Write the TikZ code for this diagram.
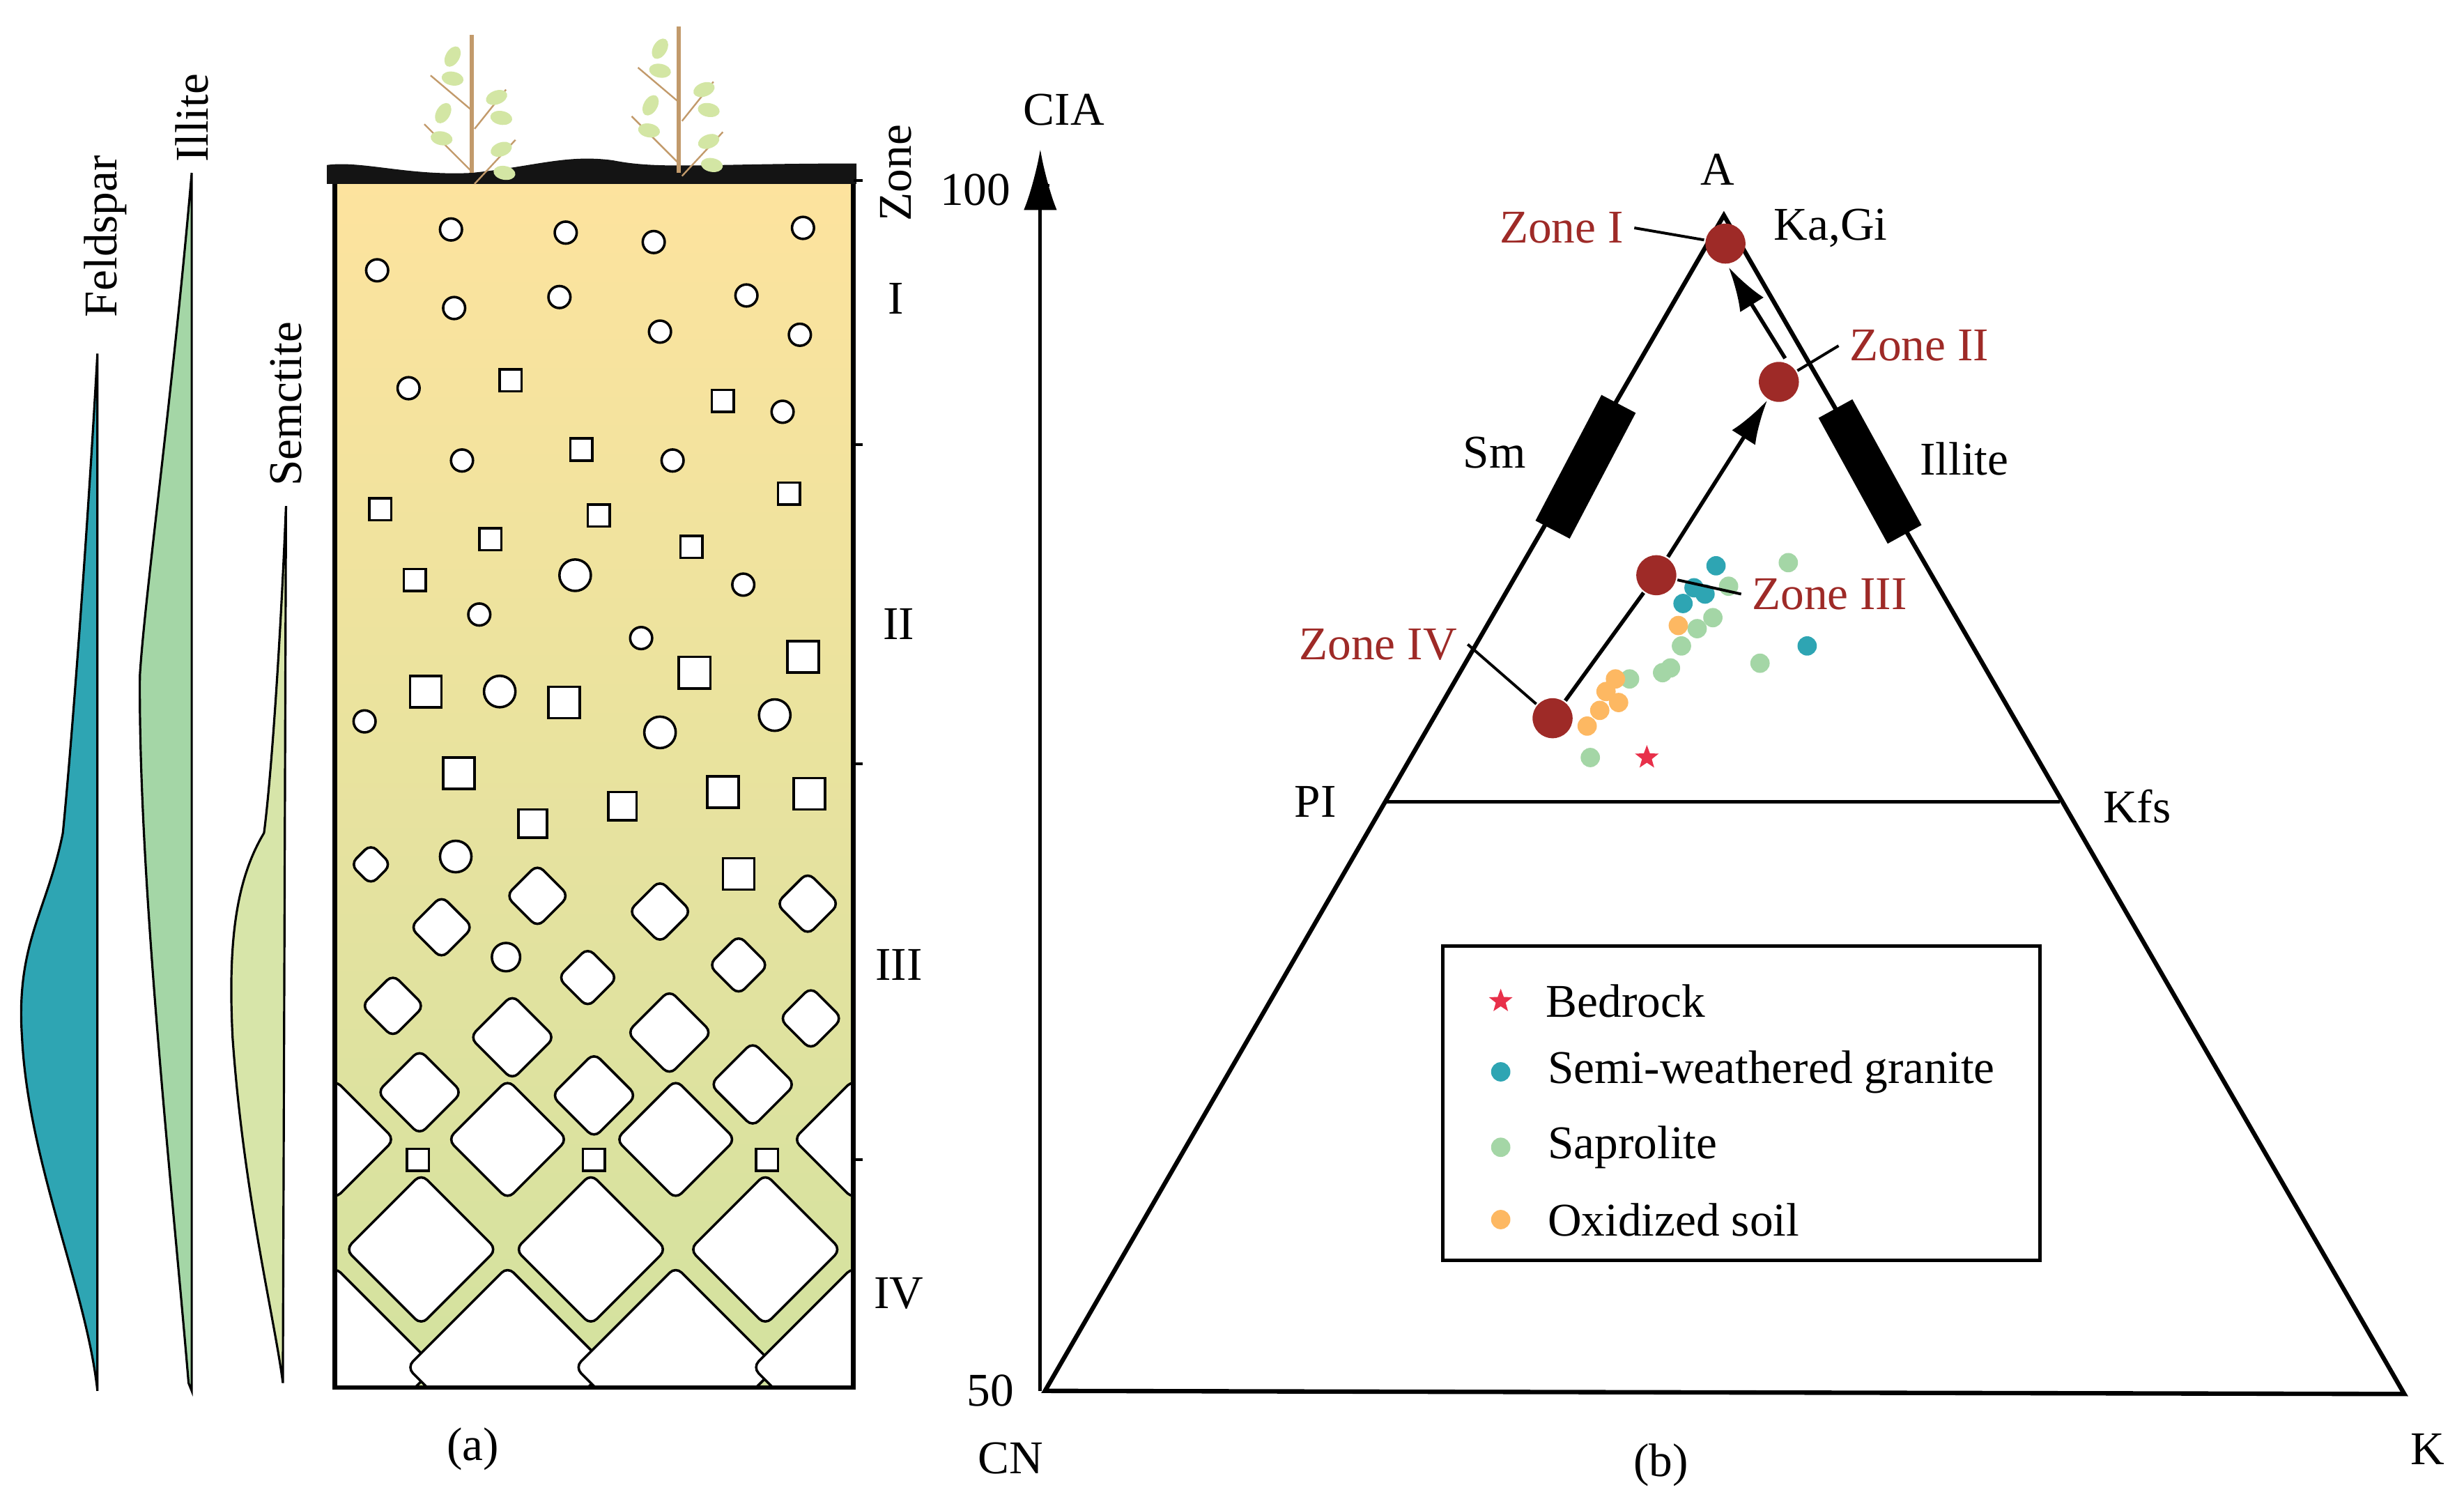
\documentclass[tikz,border=0pt]{standalone}
\usepackage{fontspec}
\setmainfont{Liberation Serif}
\usetikzlibrary{shapes.geometric,arrows.meta,positioning}
\definecolor{zred}{HTML}{9E2A27}
\definecolor{cteal}{HTML}{2EA5B3}
\definecolor{cgreen}{HTML}{A4D6A6}
\definecolor{corange}{HTML}{FDB862}
\definecolor{cstar}{HTML}{E8304A}
\definecolor{soiltop}{HTML}{FDE39E}
\definecolor{soilbot}{HTML}{D3E29F}
\definecolor{stem}{HTML}{C29A6B}
\definecolor{leaf}{HTML}{D3E6A4}
\tikzset{
  lab/.style={font=\fontsize{17}{19}\selectfont},
  zlab/.style={lab, text=zred},
  zdot/.style={circle, fill=zred, inner sep=0pt, minimum size=14.5pt},
  pt/.style={circle, inner sep=0pt, minimum size=7pt},
  bstar/.style={star, star points=5, star point ratio=2.4, fill=cstar, inner sep=0pt, minimum size=9pt},
  grain/.style={draw, fill=white, line width=0.9pt},
  dia/.style={grain, rounded corners=3pt},
  leafy/.style={ellipse, fill=leaf, inner sep=0pt, minimum width=8pt, minimum height=5pt},
}
\newcommand{\dmd}[3]{\draw[dia] (#1-#3,#2) -- (#1,#2-#3) -- (#1+#3,#2) -- (#1,#2+#3) -- cycle;}
\newcommand{\sqr}[3]{\draw[grain] (#1-#3,#2-#3) rectangle (#1+#3,#2+#3);}
\newcommand{\crc}[3]{\draw[grain] (#1,#2) circle (#3);}
\begin{document}
\begin{tikzpicture}[x=0.02cm, y=-0.02cm, line width=1.2pt]
\useasboundingbox (0,0) rectangle (1568,958);
% mineral curves
\fill[cteal, draw=black, line width=0.8pt] (62,225) .. controls (55,350) and (45,480) .. (40,530)
  .. controls (30,580) and (10,600) .. (14,660) .. controls (18,740) and (55,820) .. (62,885) -- cycle;
\fill[cgreen, draw=black, line width=0.8pt] (122,110) .. controls (110,250) and (92,380) .. (89,430)
  .. controls (88,560) and (110,760) .. (120,880) -- (122,885) -- cycle;
\fill[soilbot!90!white, draw=black, line width=0.8pt] (182,322) .. controls (178,420) and (172,500) .. (168,530)
  .. controls (150,560) and (145,600) .. (148,660) .. controls (155,760) and (175,840) .. (180,880) -- cycle;
\node[lab, rotate=90, anchor=east] (feld) at (67,92) {Feldspar};
\node[lab, rotate=90, anchor=east] (illi) at (122,40) {Illite};
\node[lab, rotate=90, anchor=east] (semc) at (182,198) {Semctite};
% soil column
\shade[top color=soiltop, bottom color=soilbot] (213,115) rectangle (543,883);
\begin{scope}
\clip (213,115) rectangle (543,883);
\foreach \x in {213,323,430,543} {\dmd{\x}{725}{38}}
\foreach \x in {268,376,487} {\dmd{\x}{795}{48}}
\foreach \x in {213,323,430,543} {\dmd{\x}{870}{64}}
\end{scope}
\foreach \x in {266,378,488} {\sqr{\x}{738}{7}}
% small diamonds
\dmd{236}{550}{13} \dmd{342}{570}{20} \dmd{420}{580}{20} \dmd{514}{575}{20}
\dmd{281}{590}{20} \dmd{374}{622}{19} \dmd{470}{614}{19} \dmd{250}{640}{20}
\dmd{326}{660}{27} \dmd{426}{657}{27} \dmd{516}{648}{20}
\dmd{267}{695}{27} \dmd{378}{697}{27} \dmd{479}{690}{27}
% circles
\foreach \x/\y/\r in {240/172/7,287/146/7,360/148/7,416/154/7,511/145/7,289/196/7,356/189/7,
  420/211/7,475/188/7,509/213/7,260/247/7,498/262/7,294/293/7,428/293/7,305/391/7,366/366/10,
  473/372/7,408/406/7,318/440/10,232/459/7,420/466/10,493/455/10,290/545/10,322/609/9}
  {\crc{\x}{\y}{\r}}
% squares
\foreach \x/\y/\s in {325/242/7,460/255/7,370/286/7,242/324/7,381/328/7,502/314/7,312/343/7,
  440/348/7,264/369/7,271/440/10,359/447/10,442/428/10,511/418/10,292/492/10,339/524/9,
  396/513/9,460/504/10,515/505/10,470/556/10}
  {\sqr{\x}{\y}{\s}}
\draw[line width=1.6pt] (213,115) rectangle (543,883);
% topsoil and plants
\fill[black!92] (208,117) -- (208,105) .. controls (230,102) and (260,112) .. (300,110)
  .. controls (340,106) and (360,98) .. (390,102) .. controls (420,108) and (450,104) .. (545,104) -- (545,117) -- cycle;
\foreach \px/\py in {300/22,432/17} {
  \draw[stem, line width=1.5pt] (\px,110) -- (\px,\py);
  \draw[stem, line width=0.6pt] (\px,\py+48) -- ++(-26,-22) (\px,\py+87) -- ++(-30,-30)
    (\px+2,\py+60) -- ++(20,-25) (\px+2,\py+95) -- ++(26,-28);
  \node[leafy, rotate=60] at (\px-12,\py+14) {};
  \node[leafy, rotate=-10] at (\px-12,\py+28) {};
  \node[leafy, rotate=60] at (\px-18,\py+50) {};
  \node[leafy, rotate=-10] at (\px-19,\py+66) {};
  \node[leafy, rotate=20] at (\px+16,\py+40) {};
  \node[leafy, rotate=-10] at (\px+19,\py+53) {};
  \node[leafy, rotate=20] at (\px+19,\py+73) {};
  \node[leafy, rotate=-10] at (\px+21,\py+88) {};
}
% zone scale
\foreach \y in {115,283,486,738} {\draw[line width=1pt] (543,\y) -- (549,\y);}
\node[lab, rotate=90] (zone) at (570,110) {Zone};
\node[lab] (zI) at (570,190) {I};
\node[lab] (zII) at (572,397) {II};
\node[lab] (zIII) at (572,614) {III};
\node[lab] (zIV) at (572,823) {IV};
\node[lab] (capa) at (301,922) {(a)};
% panel b: axis
\coordinate (ax0) at (662,885);
\coordinate (ax1) at (662,95);
\draw[line width=1.3pt, -{Latex[length=22, width=12]}] (ax0) -- (ax1);
\draw[line width=1pt] (662,118) -- (668,118);
\node[lab] (cia) at (677,70) {CIA};
\node[lab, anchor=east] (t100) at (650,121) {100};
\node[lab, anchor=east] (t50) at (652,885) {50};
% triangle
\coordinate (CN) at (665,885);
\coordinate (K) at (1530,887);
\coordinate (A) at (1097,137);
\coordinate (Pl) at (882,510);
\coordinate (Kf) at (1311,510);
\draw[line width=1.6pt, line join=miter] (CN) -- (A) -- (K) -- cycle;
\draw[line width=1.3pt] (Pl) -- (Kf);
\node[lab] (lCN) at (643,928) {CN};
\node[lab] (lK) at (1545,922) {K};
\node[lab] (lA) at (1093,108) {A};
\node[lab] (lPl) at (837,510) {PI};
\node[lab] (lKf) at (1360,513) {Kfs};
\node[lab] (lKa) at (1165,145) {Ka,Gi};
\draw[line width=14pt] (1030,257) -- (988,337);
\draw[line width=14pt] (1168,260) -- (1212,340);
\node[lab] (lSm) at (951,288) {Sm};
\node[lab] (lIl) at (1250,292) {Illite};
% samples
\foreach \x/\y in {1092/360,1078/374,1085/378,1071/384,1150/411}
  {\node[pt, fill=cteal] at (\x,\y) {};}
\foreach \x/\y in {1138/358,1100/373,1090/393,1080/400,1070/411,1063/425,1058/428,1037/432,1120/422,1012/482}
  {\node[pt, fill=cgreen] at (\x,\y) {};}
\foreach \x/\y in {1068/398,1028/432,1022/440,1030/447,1018/452,1010/462}
  {\node[pt, fill=corange] at (\x,\y) {};}
\node[bstar] (bed) at (1048,482) {};
% zones
\node[zdot] (z1) at (1098,155) {};
\node[zdot] (z2) at (1132,243) {};
\node[zdot] (z3) at (1054,366) {};
\node[zdot] (z4) at (988,457) {};
\coordinate (a1) at (1136,228);
\coordinate (a2) at (1100,170);
\draw[line width=1.4pt] (z4) -- (z3);
\draw[line width=1.4pt, -{Latex[length=16, width=10]}] (z3) -- (z2);
\draw[line width=1.4pt, -{Latex[length=16, width=10]}] (a1) -- (a2);
\node[zlab, anchor=east] (lz1) at (1040,145) {Zone I};
\node[zlab, anchor=west] (lz2) at (1170,220) {Zone II};
\node[zlab, anchor=west] (lz3) at (1108,378) {Zone III};
\node[zlab, anchor=east] (lz4) at (934,410) {Zone IV};
\draw[line width=1pt] (lz1.east) -- (z1);
\draw[line width=1pt] (lz2.west) -- (z2);
\draw[line width=1pt] (lz3.west) -- (z3);
\draw[line width=1pt] (lz4.east) -- (z4);
% legend
\draw[line width=1.3pt] (918,602) rectangle (1298,802);
\node[bstar] (k1) at (955,637) {};
\node[pt, fill=cteal] (k2) at (955,682) {};
\node[pt, fill=cgreen] (k3) at (955,730) {};
\node[pt, fill=corange] (k4) at (955,776) {};
\node[lab, right=9pt of k1] {Bedrock};
\node[lab, right=9pt of k2] {Semi-weathered granite};
\node[lab, right=9pt of k3] {Saprolite};
\node[lab, right=9pt of k4] {Oxidized soil};
\node[lab] (capb) at (1057,932) {(b)};
\end{tikzpicture}
\end{document}
